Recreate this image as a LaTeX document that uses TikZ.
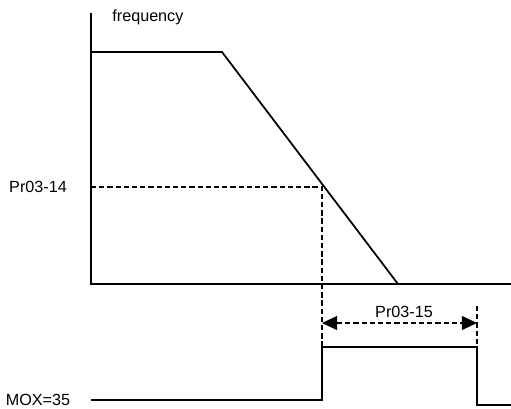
\documentclass[tikz,border=0pt]{standalone}
\usepackage{fontspec}
\setmainfont{Liberation Sans}
\usetikzlibrary{arrows.meta,positioning}

\begin{document}
\begin{tikzpicture}[
  x=0.03cm, y=-0.03cm,
  curve/.style={line width=1.5pt, draw=black},
  guide/.style={line width=1.1pt, dash pattern=on 4.5pt off 2.5pt},
  label/.style={font=\fontsize{13.8}{15}\selectfont, inner sep=1pt}
]
  \useasboundingbox (0,0) rectangle (511,408);

  % Axes
  \coordinate (ytop) at (91, 13);
  \coordinate (origin) at (91, 284);
  \coordinate (xend) at (511, 284);
  \draw[curve] (ytop) -- (origin) -- (xend);
  \node[label, anchor=west] (freq) at (111, 17) {frequency};

  % Frequency curve
  \coordinate (f0) at (91, 52);
  \coordinate (f1) at (222, 52);
  \coordinate (f2) at (398, 284);
  \draw[curve] (f0) -- (f1) -- (f2);

  % Level Pr03-14
  \node[label] (lvl) at (38, 187) {Pr03-14};
  \coordinate (lvlA) at (91, 187);
  \coordinate (lvlB) at (322, 187);
  \coordinate (lvlC) at (322, 347);
  \draw[guide] (lvlA) -- (lvlB) -- (lvlC);

  % Output pulse
  \node[label] (mox) at (38, 400) {MOX=35};
  \coordinate (p0) at (91, 400);
  \coordinate (p1) at (322, 400);
  \coordinate (p2) at (322, 347);
  \coordinate (p3) at (477, 347);
  \coordinate (p4) at (477, 405);
  \coordinate (p5) at (511, 405);
  \draw[curve] (p0) -- (p1) -- (p2) -- (p3) -- (p4) -- (p5);

  % Delay Pr03-15
  \coordinate (dtop) at (477, 306);
  \draw[guide] (dtop) -- (p3);
  \coordinate (dA) at (322, 323);
  \coordinate (dB) at (477, 323);
  \draw[guide, {Triangle[length=13pt, width=12pt]}-{Triangle[length=13pt, width=12pt]}] (dA) -- (dB);
  \node[label] (delay) at (404, 312) {Pr03-15};
\end{tikzpicture}
\end{document}
